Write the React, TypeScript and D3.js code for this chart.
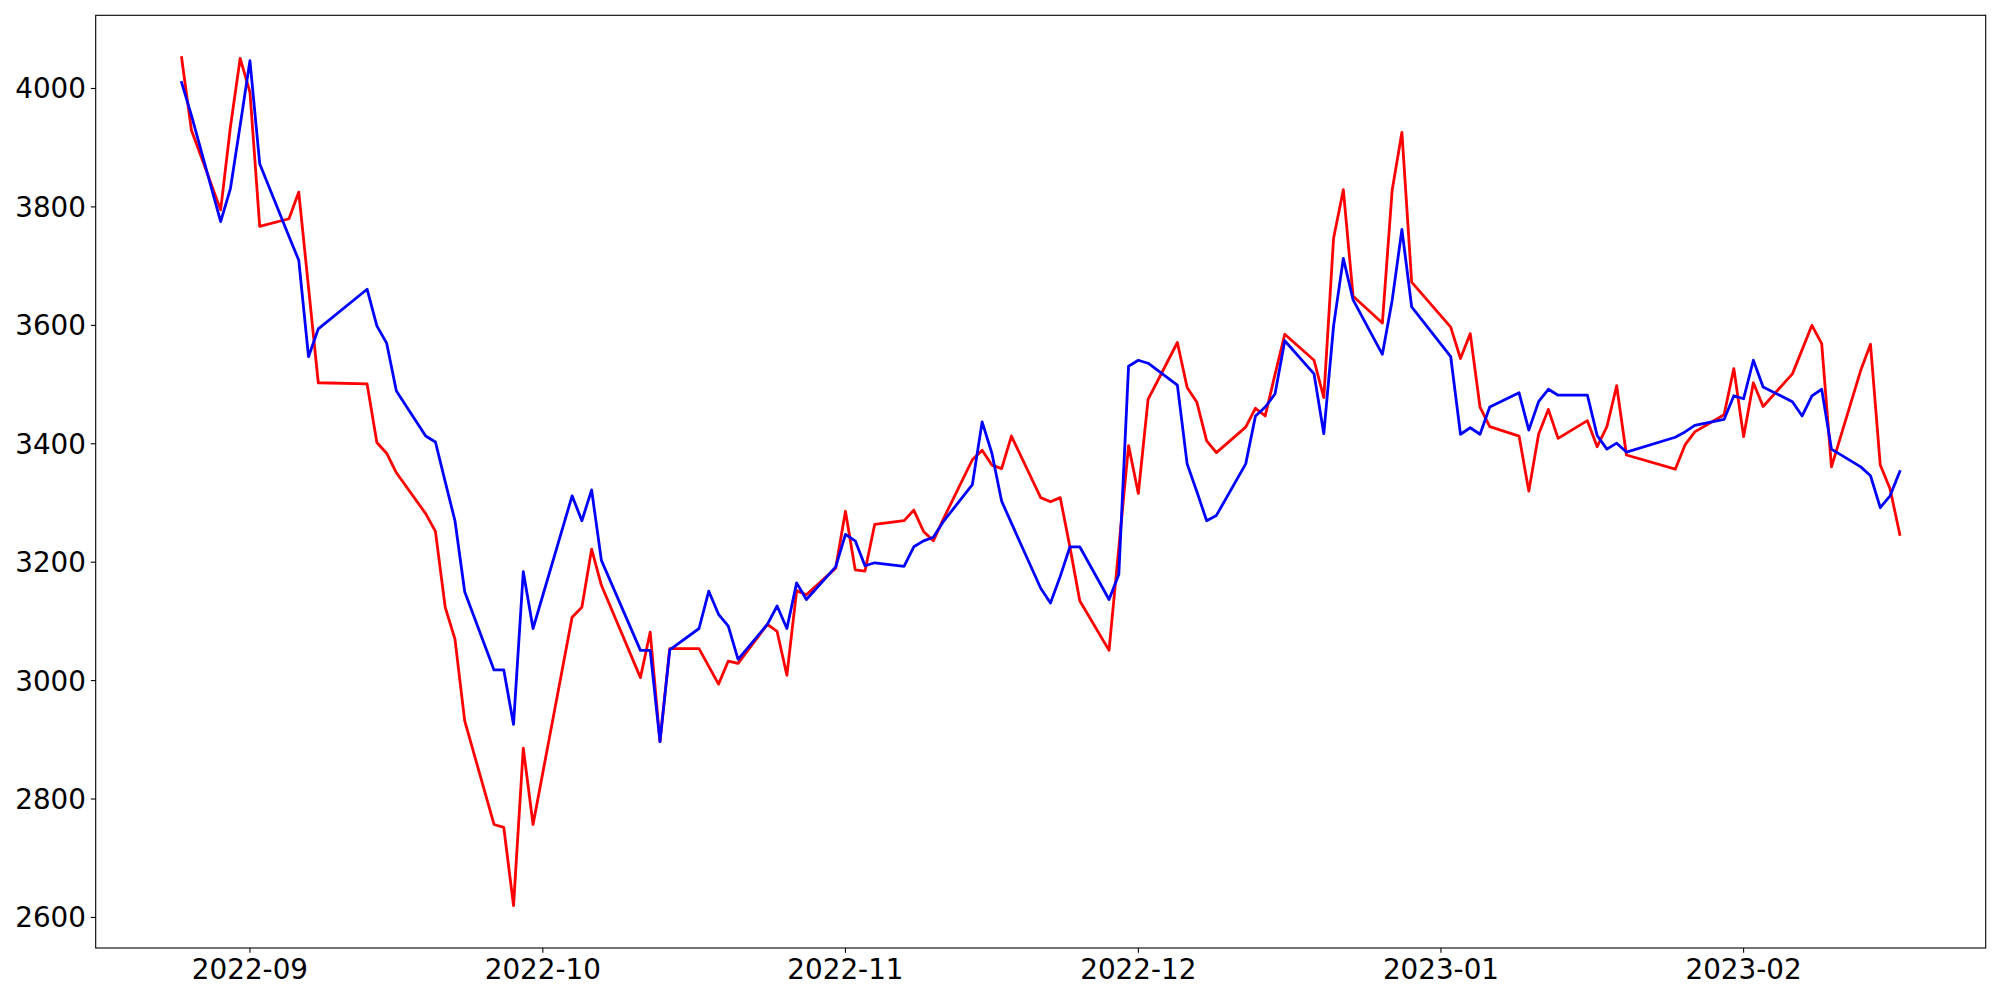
import React from "react";
import * as d3 from "d3";

const dates: string[] = [
  "2022-08-25","2022-08-26","2022-08-29","2022-08-30","2022-08-31",
  "2022-09-01","2022-09-02","2022-09-05","2022-09-06","2022-09-07","2022-09-08","2022-09-13","2022-09-14","2022-09-15","2022-09-16",
  "2022-09-19","2022-09-20","2022-09-21","2022-09-22","2022-09-23","2022-09-26","2022-09-27","2022-09-28","2022-09-29","2022-09-30",
  "2022-10-04","2022-10-05","2022-10-06","2022-10-07","2022-10-11","2022-10-12","2022-10-13","2022-10-14",
  "2022-10-17","2022-10-18","2022-10-19","2022-10-20","2022-10-21","2022-10-24","2022-10-25","2022-10-26","2022-10-27","2022-10-28","2022-10-31",
  "2022-11-01","2022-11-02","2022-11-03","2022-11-04","2022-11-07","2022-11-08","2022-11-09","2022-11-10","2022-11-11",
  "2022-11-14","2022-11-15","2022-11-16","2022-11-17","2022-11-18","2022-11-21","2022-11-22","2022-11-23","2022-11-24","2022-11-25",
  "2022-11-28","2022-11-29","2022-11-30",
  "2022-12-01","2022-12-02","2022-12-05","2022-12-06","2022-12-07","2022-12-08","2022-12-09","2022-12-12","2022-12-13","2022-12-14","2022-12-15","2022-12-16",
  "2022-12-19","2022-12-20","2022-12-21","2022-12-22","2022-12-23","2022-12-26","2022-12-27","2022-12-28","2022-12-29",
  "2023-01-02","2023-01-03","2023-01-04","2023-01-05","2023-01-06","2023-01-09","2023-01-10","2023-01-11","2023-01-12","2023-01-13",
  "2023-01-16","2023-01-17","2023-01-18","2023-01-19","2023-01-20","2023-01-25","2023-01-26","2023-01-27","2023-01-30","2023-01-31",
  "2023-02-01","2023-02-02","2023-02-03","2023-02-06","2023-02-07","2023-02-08","2023-02-09","2023-02-10",
  "2023-02-13","2023-02-14","2023-02-15","2023-02-16","2023-02-17",
];

const redSeries: number[] = [
  4052, 3930, 3795, 3935, 4051,
  3994, 3767, 3780, 3825, 3664, 3503, 3501, 3402, 3384, 3351,
  3282, 3252, 3124, 3070, 2932, 2757, 2752, 2620, 2886, 2757,
  3107, 3124, 3222, 3161, 3005, 3082, 2897, 3054,
  3054, 3024, 2994, 3033, 3029, 3095, 3083, 3009, 3152, 3145, 3190,
  3286, 3187, 3185, 3264, 3270, 3288, 3252, 3236, 3272,
  3373, 3389, 3364, 3358, 3413, 3309, 3302, 3309, 3225, 3135,
  3051, 3224, 3397,
  3316, 3475, 3571, 3495, 3470, 3405, 3385, 3428, 3460, 3447, 3517, 3585,
  3541, 3478, 3747, 3829, 3649, 3604, 3828, 3926, 3673,
  3597, 3544, 3586, 3462, 3429, 3413, 3320, 3416, 3458, 3409,
  3439, 3395, 3429, 3498, 3381, 3357, 3398, 3420, 3449, 3527,
  3412, 3503, 3463, 3518, 3559, 3600, 3569, 3361,
  3524, 3568, 3364, 3324, 3247,
];

const blueSeries: number[] = [
  4010, 3955, 3775, 3831, 3938,
  4047, 3873, 3750, 3710, 3547, 3594, 3661, 3599, 3570, 3489,
  3413, 3403, 3336, 3270, 3150, 3018, 3018, 2926, 3184, 3088,
  3312, 3270, 3322, 3203, 3051, 3051, 2897, 3052,
  3088, 3151, 3112, 3092, 3036, 3095, 3126, 3088, 3165, 3137, 3192,
  3247, 3236, 3194, 3199, 3193, 3226, 3236, 3242, 3268,
  3331, 3437, 3384, 3303, 3266, 3156, 3131, 3176, 3226, 3226,
  3137, 3179, 3531,
  3541, 3536, 3499, 3366, 3319, 3270, 3279, 3366, 3447, 3462, 3484, 3574,
  3518, 3417, 3599, 3713, 3643, 3551, 3642, 3762, 3631,
  3547, 3416, 3427, 3416, 3462, 3486, 3423, 3471, 3492, 3482,
  3482, 3414, 3391, 3401, 3386, 3411, 3420, 3431, 3441, 3481,
  3476, 3541, 3496, 3471, 3447, 3481, 3492, 3391,
  3361, 3346, 3292, 3312, 3353,
];

const yTicks: number[] = [2600, 2800, 3000, 3200, 3400, 3600, 3800, 4000];

const parse = (s: string) => {
  const [y, m, d] = s.split("-").map(Number);
  return new Date(y, m - 1, d);
};

export default function App() {
  const W = 2000, H = 1000;
  const left = 95.7, right = 1985.7, top = 15.3, bottom = 948;
  const ts = dates.map(parse);
  const t0 = +ts[0], t1 = +ts[ts.length - 1];
  const span = t1 - t0;
  const x = d3.scaleTime().domain([new Date(t0 - 0.05 * span), new Date(t1 + 0.05 * span)]).range([left, right]);
  const all = [...redSeries, ...blueSeries];
  const mn = d3.min(all)!, mx = d3.max(all)!;
  const pad = (mx - mn) * 0.05;
  const y = d3.scaleLinear().domain([mn - pad, mx + pad]).range([bottom, top]);
  const line = d3.line<number>().x((_, i) => x(ts[i])).y((v) => y(v));
  const xTicks = d3.timeMonth.every(1)!.range(new Date(t0), new Date(t1));
  const fmt = d3.timeFormat("%Y-%m");
  const font = "DejaVu Sans";
  const fs = 27.8;
  const tickLen = 4.86;
  return (
    <svg width={W} height={H} style={{ position: "absolute", left: 0, top: 0, background: "#fff" }} xmlns="http://www.w3.org/2000/svg">
      <rect x={0} y={0} width={W} height={H} fill="#fff" />
      <defs>
        <clipPath id="plot">
          <rect x={left} y={top} width={right - left} height={bottom - top} />
        </clipPath>
      </defs>
      <g clipPath="url(#plot)" fill="none" strokeLinejoin="round" strokeLinecap="square">
        <path d={line(redSeries) || ""} stroke="#ff0000" strokeWidth={2.8} />
        <path d={line(blueSeries) || ""} stroke="#0000ff" strokeWidth={2.8} />
      </g>
      <rect x={left} y={top} width={right - left} height={bottom - top} fill="none" stroke="#000" strokeWidth={1.1} />
      {yTicks.map((t) => (
        <g key={t}>
          <line x1={left - tickLen} x2={left} y1={y(t)} y2={y(t)} stroke="#000" strokeWidth={1.1} />
          <text x={left - tickLen - 4.86} y={y(t) + 10} textAnchor="end" fontFamily={font} fontSize={fs} fill="#000">
            {t}
          </text>
        </g>
      ))}
      {xTicks.map((t) => (
        <g key={+t}>
          <line x1={x(t)} x2={x(t)} y1={bottom} y2={bottom + tickLen} stroke="#000" strokeWidth={1.1} />
          <text x={x(t)} y={979} textAnchor="middle" fontFamily={font} fontSize={fs} fill="#000">
            {fmt(t)}
          </text>
        </g>
      ))}
    </svg>
  );
}
